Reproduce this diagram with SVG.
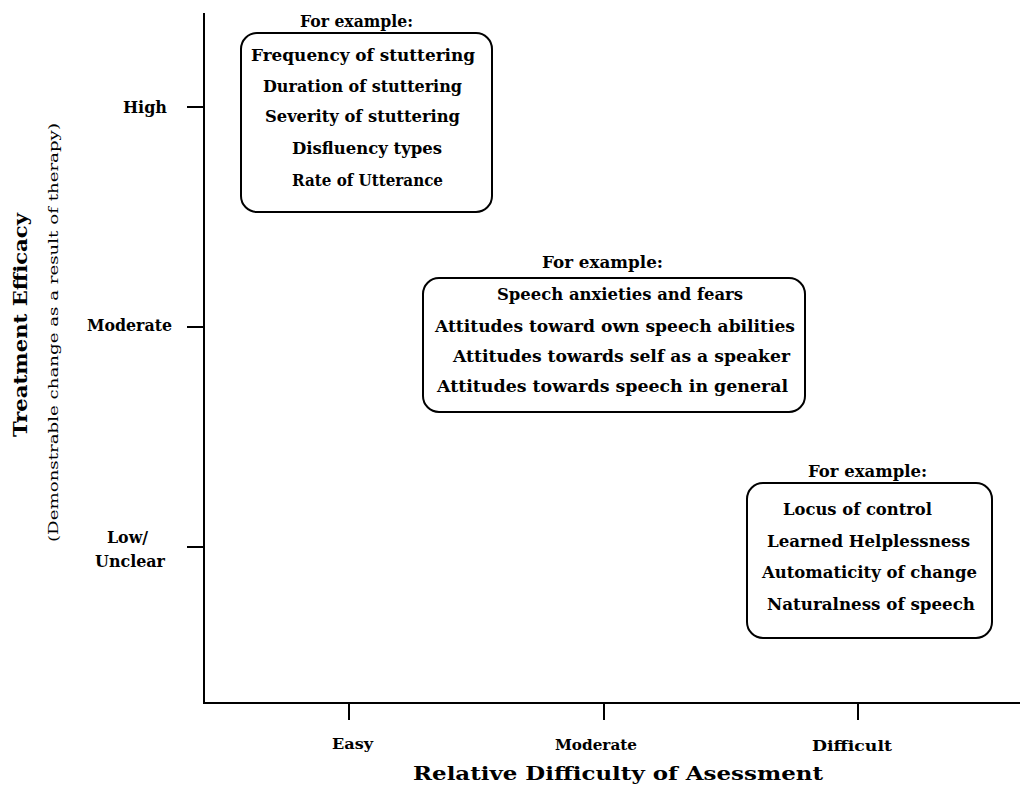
<svg xmlns="http://www.w3.org/2000/svg" width="1023" height="785" viewBox="0 0 1023 785">
<style>
text{font-family:"DejaVu Serif","Liberation Serif",serif;font-weight:bold;fill:#000}
.b{font-size:16px}
.s{font-size:14px}
.t{font-size:19px}
.sub{font-size:13px;font-weight:normal}
.box{fill:none;stroke:#000;stroke-width:2}
.ax{stroke:#000;stroke-width:2;fill:none}
</style>
<rect width="1023" height="785" fill="#fff"/>
<g id="axes" class="ax">
<path d="M204 13V703H1020"/>
<path d="M187 107H204M187 327H204M187 547H204"/>
<path d="M349 703V720M604 703V720M858 703V720"/>
</g>
<g id="axis-labels">
<text class="b" x="123" y="113" textLength="44" lengthAdjust="spacingAndGlyphs">High</text>
<text class="b" x="87" y="331" textLength="85" lengthAdjust="spacingAndGlyphs">Moderate</text>
<text class="b" x="107" y="543" textLength="41" lengthAdjust="spacingAndGlyphs">Low/</text>
<text class="b" x="95" y="567" textLength="70" lengthAdjust="spacingAndGlyphs">Unclear</text>
<text class="s" x="332" y="749" textLength="41" lengthAdjust="spacingAndGlyphs">Easy</text>
<text class="s" x="555" y="750" textLength="82" lengthAdjust="spacingAndGlyphs">Moderate</text>
<text class="s" x="812" y="751" textLength="80" lengthAdjust="spacingAndGlyphs">Difficult</text>
<text class="t" x="413" y="780" textLength="410" lengthAdjust="spacingAndGlyphs">Relative Difficulty of Asessment</text>
<text class="t" transform="translate(27,437) rotate(-90)" textLength="224" lengthAdjust="spacingAndGlyphs">Treatment Efficacy</text>
<text class="sub" transform="translate(58,542) rotate(-90)" textLength="419" lengthAdjust="spacingAndGlyphs">(Demonstrable change as a result of therapy)</text>
</g>
<g id="node-high">
<text class="b" x="300" y="27" textLength="113" lengthAdjust="spacingAndGlyphs">For example:</text>
<rect class="box" x="241" y="33" width="251" height="179" rx="16"/>
<text class="b" x="251" y="61" textLength="224" lengthAdjust="spacingAndGlyphs">Frequency of stuttering</text>
<text class="b" x="263" y="92" textLength="199" lengthAdjust="spacingAndGlyphs">Duration of stuttering</text>
<text class="b" x="265" y="122" textLength="195" lengthAdjust="spacingAndGlyphs">Severity of stuttering</text>
<text class="b" x="292" y="154" textLength="150" lengthAdjust="spacingAndGlyphs">Disfluency types</text>
<text class="b" x="292" y="186" textLength="151" lengthAdjust="spacingAndGlyphs">Rate of Utterance</text>
</g>
<g id="node-moderate">
<text class="b" x="542" y="268" textLength="121" lengthAdjust="spacingAndGlyphs">For example:</text>
<rect class="box" x="423" y="278" width="382" height="134" rx="16"/>
<text class="b" x="497" y="300" textLength="246" lengthAdjust="spacingAndGlyphs">Speech anxieties and fears</text>
<text class="b" x="435" y="332" textLength="360" lengthAdjust="spacingAndGlyphs">Attitudes toward own speech abilities</text>
<text class="b" x="453" y="362" textLength="337" lengthAdjust="spacingAndGlyphs">Attitudes towards self as a speaker</text>
<text class="b" x="437" y="392" textLength="351" lengthAdjust="spacingAndGlyphs">Attitudes towards speech in general</text>
</g>
<g id="node-low">
<text class="b" x="808" y="477" textLength="119" lengthAdjust="spacingAndGlyphs">For example:</text>
<rect class="box" x="747" y="483" width="245" height="155" rx="16"/>
<text class="b" x="783" y="515" textLength="149" lengthAdjust="spacingAndGlyphs">Locus of control</text>
<text class="b" x="767" y="547" textLength="203" lengthAdjust="spacingAndGlyphs">Learned Helplessness</text>
<text class="b" x="762" y="578" textLength="215" lengthAdjust="spacingAndGlyphs">Automaticity of change</text>
<text class="b" x="767" y="610" textLength="208" lengthAdjust="spacingAndGlyphs">Naturalness of speech</text>
</g>
<g id="connectors"/>
</svg>
